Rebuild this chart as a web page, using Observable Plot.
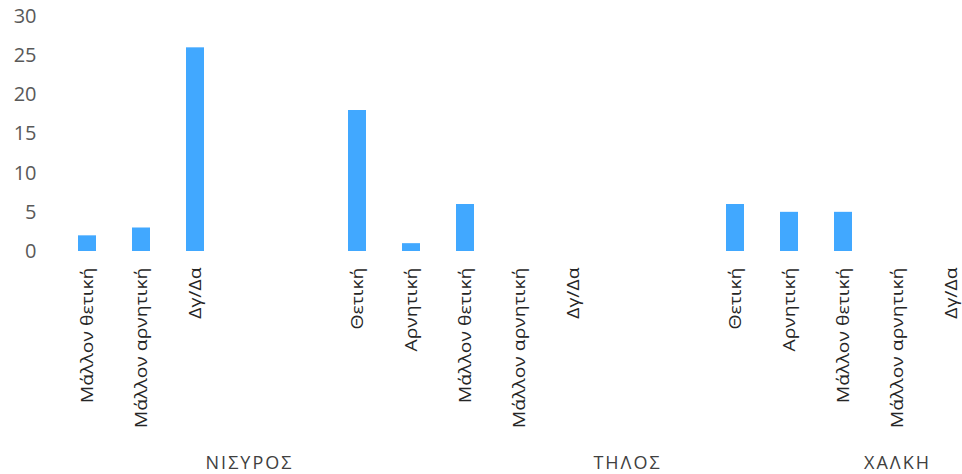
<!DOCTYPE html>
<html>
<head>
<meta charset="utf-8">
<script src="https://cdn.jsdelivr.net/npm/d3@7"></script>
<script src="https://cdn.jsdelivr.net/npm/@observablehq/plot@0.6"></script>
<style>
  html, body { margin: 0; padding: 0; background: #fff; overflow: hidden; }
  #chart svg { display: block; }
</style>
</head>
<body>
<div id="chart"></div>
<script>
// Islands (outer category level) and how many answer slots each spans
const groups = ["ΝΙΣΥΡΟΣ", "ΤΗΛΟΣ", "ΧΑΛΚΗ"];
const groupSizes = [7, 7, 3];

// Answer labels along the axis (blank slots separate the islands)
const answers = [
  "Μάλλον θετική", "Μάλλον αρνητική", "Δγ/Δα", "", "",
  "Θετική", "Αρνητική", "Μάλλον θετική", "Μάλλον αρνητική", "Δγ/Δα", "", "",
  "Θετική", "Αρνητική", "Μάλλον θετική", "Μάλλον αρνητική", "Δγ/Δα"
];

// Number of responses per slot
const counts = [
  2, 3, 26, null, null,
  18, 1, 6, 0, 0, null, null,
  6, 5, 5, 0, 0
];

const yTicks = [0, 5, 10, 15, 20, 25, 30];

const slots = d3.range(answers.length);
const rows = slots.map(i => ({slot: i, answer: answers[i], count: counts[i]}));

// Group label sits on the middle slot of each island's span
let start = 0;
const groupRows = groups.map((g, j) => {
  const r = {group: g, slot: start + Math.floor(groupSizes[j] / 2)};
  start += groupSizes[j];
  return r;
});

const chart = Plot.plot({
  width: 962,
  height: 474,
  marginTop: 16,
  marginBottom: 223,
  marginLeft: 60,
  marginRight: 0,
  style: {fontFamily: "'Open Sans', sans-serif", background: "#fff", overflow: "visible"},
  x: {type: "band", domain: slots, range: [60, 978], paddingInner: 2 / 3, paddingOuter: 1 / 3, axis: null},
  y: {domain: [0, 30], axis: null},
  marks: [
    Plot.axisY({ticks: yTicks, tickSize: 0, tickPadding: 24, fontSize: 20, color: "#595959", label: null}),
    Plot.barY(rows.filter(d => d.count != null), {x: "slot", y: "count", fill: "#41a8ff"}),
    Plot.text(rows.filter(d => d.answer), {
      x: "slot", y: () => 0, text: "answer", rotate: -90,
      textAnchor: "end", lineAnchor: "middle", dy: 16,
      fontSize: 17, fill: "#262626", className: "answer-label"
    }),
    Plot.text(groupRows, {
      x: "slot", y: () => 0, text: "group", dy: 212,
      fontSize: 18, fill: "#404040", className: "group-label"
    })
  ]
});

document.getElementById("chart").appendChild(chart);

// Stretch the rotated answer labels along their reading direction
d3.select(chart).selectAll("g.answer-label text").each(function () {
  const t = this.getAttribute("transform") || "";
  this.setAttribute("transform", t + " scale(1.14,1)");
});
d3.select(chart).selectAll("g.group-label text").style("letter-spacing", "2px");
</script>
</body>
</html>
